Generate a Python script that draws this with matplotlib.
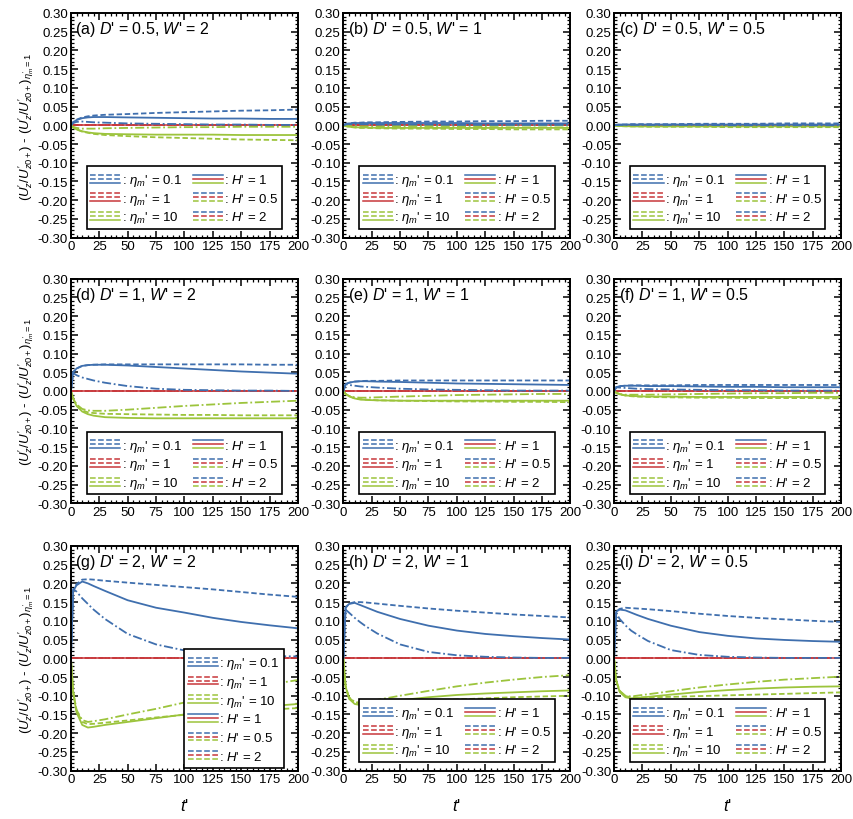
import matplotlib
matplotlib.use("Agg")
import matplotlib.pyplot as plt
from matplotlib.lines import Line2D
from matplotlib.legend_handler import HandlerBase
from matplotlib.ticker import MultipleLocator, FormatStrFormatter

plt.rcParams['font.family'] = ['Liberation Sans', 'DejaVu Sans']
plt.rcParams['mathtext.fontset'] = 'custom'
plt.rcParams['mathtext.rm'] = 'Liberation Sans'
plt.rcParams['mathtext.it'] = 'Liberation Sans:italic'
plt.rcParams['font.size'] = 9

# time axis shared by every panel
t = [0, 2, 5, 10, 15, 20, 30, 50, 75, 100, 125, 150, 175, 200]

# each list holds the H' = 1, H' = 0.5 and H' = 2 curves, in that order
blue_a = [[0, 0.008, 0.014, 0.019, 0.021, 0.022, 0.022, 0.021, 0.020, 0.019, 0.018, 0.018, 0.017, 0.017],
          [0, 0.008, 0.015, 0.021, 0.024, 0.026, 0.028, 0.030, 0.033, 0.035, 0.037, 0.039, 0.040, 0.042],
          [0, 0.006, 0.009, 0.010, 0.009, 0.008, 0.007, 0.005, 0.004, 0.003, 0.002, 0.002, 0.001, 0.001]]
green_a = [[0, -0.006, -0.011, -0.016, -0.019, -0.021, -0.023, -0.024, -0.025, -0.025, -0.025, -0.026, -0.026, -0.026],
           [0, -0.006, -0.011, -0.017, -0.020, -0.023, -0.026, -0.029, -0.032, -0.034, -0.036, -0.038, -0.039, -0.040],
           [0, -0.004, -0.007, -0.009, -0.009, -0.009, -0.008, -0.007, -0.006, -0.005, -0.005, -0.004, -0.004, -0.004]]

blue_b = [[0, 0.003, 0.005, 0.006, 0.006, 0.006, 0.006, 0.006, 0.006, 0.006, 0.005, 0.005, 0.005, 0.005],
          [0, 0.003, 0.005, 0.007, 0.007, 0.008, 0.008, 0.009, 0.010, 0.010, 0.011, 0.011, 0.012, 0.012],
          [0, 0.002, 0.003, 0.003, 0.003, 0.003, 0.002, 0.002, 0.002, 0.001, 0.001, 0.001, 0.001, 0.001]]
green_b = [[0, -0.002, -0.004, -0.005, -0.006, -0.006, -0.007, -0.007, -0.007, -0.007, -0.007, -0.007, -0.007, -0.007],
           [0, -0.002, -0.004, -0.006, -0.007, -0.007, -0.008, -0.009, -0.009, -0.010, -0.010, -0.011, -0.011, -0.011],
           [0, -0.001, -0.002, -0.003, -0.003, -0.003, -0.003, -0.002, -0.002, -0.002, -0.002, -0.001, -0.001, -0.001]]

blue_c = [[0, 0.001, 0.002, 0.002, 0.002, 0.002, 0.002, 0.002, 0.002, 0.002, 0.002, 0.002, 0.002, 0.002],
          [0, 0.001, 0.002, 0.002, 0.003, 0.003, 0.003, 0.003, 0.004, 0.004, 0.004, 0.005, 0.005, 0.005],
          [0, 0.001, 0.001, 0.001, 0.001, 0.001, 0.001, 0.001, 0.001, 0.000, 0.000, 0.000, 0.000, 0.000]]
green_c = [[0, -0.001, -0.002, -0.002, -0.003, -0.003, -0.003, -0.003, -0.003, -0.003, -0.003, -0.003, -0.003, -0.003],
           [0, -0.001, -0.002, -0.003, -0.003, -0.003, -0.004, -0.004, -0.004, -0.005, -0.005, -0.005, -0.005, -0.005],
           [0, -0.001, -0.001, -0.001, -0.001, -0.001, -0.001, -0.001, -0.001, -0.001, 0.000, 0.000, 0.000, 0.000]]

blue_d = [[0, 0.050, 0.060, 0.067, 0.069, 0.070, 0.070, 0.068, 0.064, 0.060, 0.056, 0.052, 0.049, 0.046],
          [0, 0.050, 0.060, 0.067, 0.069, 0.070, 0.071, 0.071, 0.071, 0.071, 0.071, 0.071, 0.070, 0.070],
          [0, 0.048, 0.042, 0.036, 0.032, 0.028, 0.022, 0.013, 0.006, 0.003, 0.002, 0.001, 0.001, 0.000]]
green_d = [[0, -0.020, -0.040, -0.055, -0.062, -0.066, -0.070, -0.072, -0.073, -0.073, -0.073, -0.073, -0.073, -0.073],
           [0, -0.020, -0.038, -0.052, -0.057, -0.059, -0.061, -0.062, -0.063, -0.064, -0.064, -0.065, -0.065, -0.065],
           [0, -0.020, -0.036, -0.048, -0.052, -0.053, -0.053, -0.050, -0.045, -0.040, -0.036, -0.032, -0.029, -0.026]]

blue_e = [[0, 0.018, 0.022, 0.025, 0.026, 0.026, 0.025, 0.024, 0.022, 0.020, 0.019, 0.018, 0.017, 0.016],
          [0, 0.018, 0.022, 0.025, 0.026, 0.027, 0.027, 0.028, 0.028, 0.028, 0.028, 0.028, 0.028, 0.028],
          [0, 0.018, 0.016, 0.014, 0.012, 0.011, 0.009, 0.006, 0.004, 0.003, 0.002, 0.001, 0.001, 0.001]]
green_e = [[0, -0.008, -0.014, -0.020, -0.023, -0.024, -0.025, -0.026, -0.026, -0.026, -0.026, -0.026, -0.026, -0.026],
           [0, -0.008, -0.014, -0.020, -0.022, -0.023, -0.025, -0.026, -0.027, -0.028, -0.028, -0.029, -0.029, -0.030],
           [0, -0.008, -0.013, -0.017, -0.018, -0.018, -0.017, -0.015, -0.013, -0.011, -0.010, -0.009, -0.008, -0.008]]

blue_f = [[0, 0.010, 0.013, 0.014, 0.014, 0.014, 0.013, 0.013, 0.012, 0.011, 0.011, 0.010, 0.010, 0.010],
          [0, 0.010, 0.013, 0.014, 0.015, 0.015, 0.015, 0.015, 0.016, 0.016, 0.016, 0.016, 0.016, 0.016],
          [0, 0.010, 0.009, 0.008, 0.007, 0.006, 0.005, 0.004, 0.003, 0.002, 0.002, 0.001, 0.001, 0.001]]
green_f = [[0, -0.005, -0.009, -0.012, -0.013, -0.014, -0.015, -0.015, -0.016, -0.016, -0.016, -0.016, -0.016, -0.016],
           [0, -0.005, -0.009, -0.012, -0.014, -0.015, -0.016, -0.017, -0.018, -0.018, -0.019, -0.019, -0.019, -0.020],
           [0, -0.005, -0.008, -0.010, -0.010, -0.010, -0.010, -0.009, -0.008, -0.007, -0.006, -0.006, -0.005, -0.005]]

blue_g = [[0, 0.180, 0.195, 0.205, 0.200, 0.193, 0.180, 0.155, 0.135, 0.122, 0.108, 0.097, 0.088, 0.080],
          [0, 0.180, 0.198, 0.210, 0.211, 0.210, 0.207, 0.202, 0.196, 0.190, 0.184, 0.177, 0.170, 0.164],
          [0, 0.185, 0.178, 0.160, 0.145, 0.130, 0.105, 0.065, 0.037, 0.021, 0.013, 0.009, 0.006, 0.005]]
green_g = [[0, -0.090, -0.145, -0.178, -0.185, -0.183, -0.178, -0.170, -0.160, -0.150, -0.142, -0.135, -0.128, -0.122],
           [0, -0.090, -0.140, -0.170, -0.176, -0.175, -0.172, -0.166, -0.158, -0.151, -0.146, -0.141, -0.137, -0.133],
           [0, -0.090, -0.138, -0.165, -0.170, -0.168, -0.163, -0.150, -0.135, -0.118, -0.100, -0.084, -0.070, -0.058]]

blue_h = [[0, 0.135, 0.145, 0.148, 0.142, 0.136, 0.124, 0.105, 0.087, 0.074, 0.065, 0.059, 0.054, 0.050],
          [0, 0.135, 0.146, 0.150, 0.150, 0.149, 0.146, 0.140, 0.133, 0.127, 0.122, 0.117, 0.113, 0.109],
          [0, 0.130, 0.122, 0.108, 0.096, 0.085, 0.066, 0.037, 0.017, 0.008, 0.004, 0.002, 0.001, 0.001]]
green_h = [[0, -0.075, -0.108, -0.122, -0.125, -0.123, -0.119, -0.112, -0.104, -0.098, -0.094, -0.091, -0.088, -0.086],
           [0, -0.075, -0.105, -0.118, -0.121, -0.121, -0.120, -0.117, -0.113, -0.110, -0.107, -0.104, -0.102, -0.100],
           [0, -0.075, -0.104, -0.117, -0.118, -0.116, -0.111, -0.100, -0.087, -0.075, -0.065, -0.057, -0.050, -0.045]]

blue_i = [[0, 0.125, 0.130, 0.128, 0.122, 0.116, 0.105, 0.087, 0.070, 0.060, 0.053, 0.049, 0.046, 0.044],
          [0, 0.125, 0.132, 0.135, 0.134, 0.133, 0.131, 0.126, 0.119, 0.113, 0.108, 0.104, 0.100, 0.097],
          [0, 0.120, 0.105, 0.088, 0.074, 0.064, 0.046, 0.022, 0.009, 0.004, 0.002, 0.001, 0.001, 0.001]]
green_i = [[0, -0.060, -0.090, -0.104, -0.107, -0.106, -0.103, -0.097, -0.090, -0.085, -0.081, -0.078, -0.076, -0.075],
           [0, -0.060, -0.088, -0.101, -0.104, -0.105, -0.104, -0.103, -0.101, -0.099, -0.097, -0.095, -0.093, -0.091],
           [0, -0.060, -0.087, -0.100, -0.102, -0.100, -0.096, -0.088, -0.078, -0.070, -0.063, -0.057, -0.053, -0.049]]

panel_tags = ['a', 'b', 'c', 'd', 'e', 'f', 'g', 'h', 'i']
d_values = ['0.5', '0.5', '0.5', '1', '1', '1', '2', '2', '2']
w_values = ['2', '1', '0.5', '2', '1', '0.5', '2', '1', '0.5']
blue_sets = [blue_a, blue_b, blue_c, blue_d, blue_e, blue_f, blue_g, blue_h, blue_i]
green_sets = [green_a, green_b, green_c, green_d, green_e, green_f, green_g, green_h, green_i]

eta_labels = ['0.1', '1', '10']
h_labels = ['1', '0.5', '2']
colors = ['#3f6fae', '#c8373a', '#9cc43c']
styles = ['-', (0, (3, 1.5)), (0, (5, 1.5, 1, 1.5))]


class StackedHandler(HandlerBase):
    """Draws a tuple of lines as three short strokes stacked on top of each other."""
    def create_artists(self, legend, orig_handle, xdescent, ydescent,
                       width, height, fontsize, trans):
        artists = []
        gap = 0.3 * fontsize
        yc = 0.33 * fontsize  # measured from the text baseline
        for k, ln in enumerate(orig_handle):
            y = yc + (1 - k) * gap
            seg = Line2D([-xdescent, -xdescent + width], [y, y],
                         color=ln.get_color(), linestyle=ln.get_linestyle(),
                         linewidth=1.1, transform=trans)
            artists.append(seg)
        return artists


def legend_handles():
    handles = []
    for c in colors:
        handles.append(tuple(Line2D([], [], color=c, linestyle=s) for s in
                             [styles[1], styles[2], styles[0]]))
    for s in styles:
        handles.append(tuple(Line2D([], [], color=c, linestyle=s) for c in colors))
    labels = [r": $\eta_m$' = " + v for v in eta_labels] + [r": $H$' = " + v for v in h_labels]
    return handles, labels


fig = plt.figure(figsize=(8.54, 8.2), dpi=100)
lefts = [0.083, 0.402, 0.719]
bottoms = [0.709, 0.385, 0.059]
w, h = 0.266, 0.274

for idx in range(9):
    row, col = divmod(idx, 3)
    ax = fig.add_axes([lefts[col], bottoms[row], w, h])
    # red curves are the reference case, identically zero
    for s in styles:
        ax.plot(t, [0] * len(t), color=colors[1], linestyle=s, lw=1.1)
    for curve, s in zip(green_sets[idx], styles):
        ax.plot(t, curve, color=colors[2], linestyle=s, lw=1.3)
    for curve, s in zip(blue_sets[idx], styles):
        ax.plot(t, curve, color=colors[0], linestyle=s, lw=1.3)

    ax.set_xlim(0, 200)
    ax.set_ylim(-0.30, 0.30)
    ax.xaxis.set_major_locator(MultipleLocator(25))
    ax.xaxis.set_minor_locator(MultipleLocator(5))
    ax.yaxis.set_major_locator(MultipleLocator(0.05))
    ax.yaxis.set_minor_locator(MultipleLocator(0.01))
    ax.yaxis.set_major_formatter(FormatStrFormatter('%.2f'))
    ax.tick_params(which='both', direction='in', top=True, right=True, labelsize=9.5, pad=2)
    ax.tick_params(which='major', length=5, width=1.1)
    ax.tick_params(which='minor', length=2.5, width=0.9)
    for sp in ax.spines.values():
        sp.set_linewidth(1.4)

    ax.text(0.02, 0.93, "(%s) $D$' = %s, $W$' = %s" % (panel_tags[idx], d_values[idx], w_values[idx]),
            transform=ax.transAxes, fontsize=11.5, va='center', ha='left')

    handles, labels = legend_handles()
    common = dict(handler_map={tuple: StackedHandler()}, loc='lower left',
                  mode='expand', fontsize=9.5, handlelength=2.3, handleheight=1.8,
                  handletextpad=0.1, labelspacing=0.0, borderpad=0.25,
                  borderaxespad=0, fancybox=False, framealpha=1,
                  edgecolor='black')
    if idx == 6:
        leg = ax.legend(handles, labels, bbox_to_anchor=(0.50, 0.012, 0.44, 0.5),
                        ncol=1, **common)
    else:
        leg = ax.legend(handles, labels, bbox_to_anchor=(0.07, 0.04, 0.86, 0.25),
                        ncol=2, columnspacing=0.9, **common)
    leg.get_frame().set_linewidth(1.2)

    if col == 0:
        ax.set_ylabel(r"$(U_z'/U_{z0+}')$ - $(U_z'/U_{z0+}')_{\eta_m'=1}$", fontsize=9.5, labelpad=1)
    if row == 2:
        ax.set_xlabel("$t$'", fontsize=12, labelpad=8)

fig.savefig("out.png", dpi=100)
